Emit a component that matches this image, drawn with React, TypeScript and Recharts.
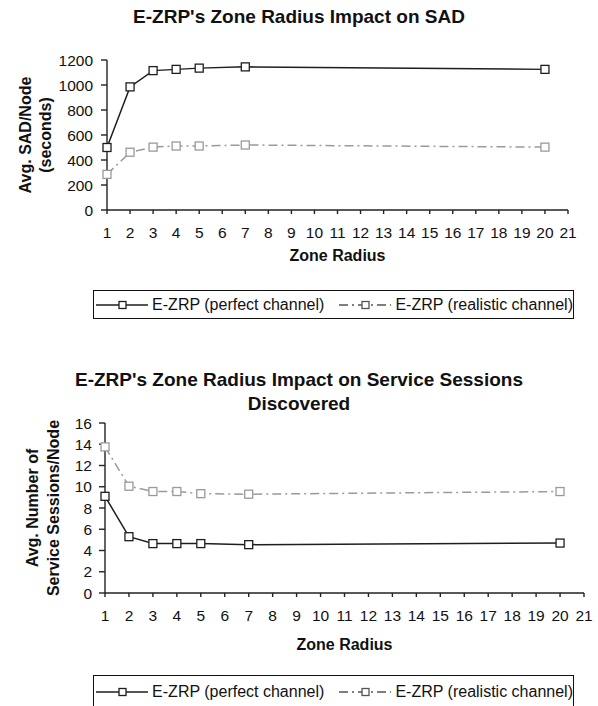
import React from 'react';
import { LineChart, Line, XAxis, YAxis, Legend } from 'recharts';

const radius = [1, 2, 3, 4, 5, 7, 20];
const sadPerfect = [500, 985, 1115, 1125, 1135, 1145, 1125];
const sadRealistic = [285, 462, 503, 512, 512, 520, 503];
const sessPerfect = [9.1, 5.3, 4.65, 4.65, 4.65, 4.55, 4.7];
const sessRealistic = [13.75, 10.05, 9.55, 9.55, 9.35, 9.3, 9.55];

const xTicks = [1, 2, 3, 4, 5, 6, 7, 8, 9, 10, 11, 12, 13, 14, 15, 16, 17, 18, 19, 20, 21];
const sadTicks = [0, 200, 400, 600, 800, 1000, 1200];
const sessTicks = [0, 2, 4, 6, 8, 10, 12, 14, 16];

const seriesNames = ['E-ZRP (perfect channel)', 'E-ZRP (realistic channel)'];
const titleTop = "E-ZRP's Zone Radius Impact on SAD";
const titleBottom1 = "E-ZRP's Zone Radius Impact on Service Sessions";
const titleBottom2 = 'Discovered';
const xTitle = 'Zone Radius';

const FONT = "'Liberation Sans', Arial, sans-serif";
const DARK = '#1e1e1e';
const GRAY = '#9a9a9a';
const DASH = '9 4 2 4';

const sadData = radius.map((r, i) => ({ x: r, perfect: sadPerfect[i], realistic: sadRealistic[i] }));
const sessData = radius.map((r, i) => ({ x: r, perfect: sessPerfect[i], realistic: sessRealistic[i] }));

const SquareDot = (color: string) => (props: any) => {
  const { cx, cy } = props;
  if (cx == null || cy == null) return null;
  return <rect x={cx - 4} y={cy - 4} width={8} height={8} fill="#fff" stroke={color} strokeWidth={1.3} />;
};

const YTitle = (lines: string[], offsets: number[]) => (props: any) => {
  const vb = props.viewBox || {};
  const cy = vb.y + vb.height / 2;
  return (
    <g>
      {lines.map((l, i) => {
        const cx = vb.x + offsets[i];
        return (
          <text key={i} x={cx} y={cy} transform={`rotate(-90, ${cx}, ${cy})`} textAnchor="middle"
            dominantBaseline="central" fontFamily={FONT} fontWeight="bold" fontSize={16} fill="#111">{l}</text>
        );
      })}
    </g>
  );
};

const LegendBox = () => (
  <div style={{
    boxSizing: 'border-box', width: '100%', height: '100%', border: '1.5px solid #111',
    display: 'flex', alignItems: 'center', fontFamily: FONT, fontSize: 16, color: '#111', paddingLeft: 1, whiteSpace: 'nowrap'
  }}>
    <svg width={54} height={12} style={{ marginRight: 4 }}>
      <line x1={1} y1={6} x2={53} y2={6} stroke={DARK} strokeWidth={1.5} />
      <rect x={24} y={2.5} width={7} height={7} fill="#fff" stroke={DARK} strokeWidth={1.3} />
    </svg>
    <span>{seriesNames[0]}</span>
    <svg width={54} height={12} style={{ marginLeft: 14, marginRight: 4 }}>
      <line x1={1} y1={6} x2={53} y2={6} stroke="#555" strokeWidth={1.5} strokeDasharray={DASH} />
      <rect x={24} y={2.5} width={7} height={7} fill="#fff" stroke="#555" strokeWidth={1.3} />
    </svg>
    <span>{seriesNames[1]}</span>
  </div>
);

const tickStyle = { fontFamily: FONT, fontSize: 15.5, fill: '#111' };
const axisLine = { stroke: '#222', strokeWidth: 1.4 };

export default function App() {
  return (
    <div style={{ position: 'absolute', left: 0, top: 0, width: 598, height: 706, background: '#fff', overflow: 'hidden' }}>
      <div style={{ position: 'absolute', left: 0, top: 6, width: 598, textAlign: 'center', fontFamily: FONT, fontWeight: 'bold', fontSize: 19, color: '#111' }}>
        {titleTop}
      </div>
      <div style={{ position: 'absolute', left: 0, top: 0 }}>
        <LineChart width={598} height={330} data={sadData} margin={{ top: 60, right: 30, bottom: 0, left: 0 }}>
          <XAxis dataKey="x" type="number" domain={[1, 21]} ticks={xTicks} interval={0} height={120}
            tick={tickStyle} tickSize={4} tickMargin={13} axisLine={axisLine} tickLine={axisLine}
            label={{ value: xTitle, position: 'insideTop', offset: 40, fontFamily: FONT, fontWeight: 'bold', fontSize: 16, fill: '#111' }} />
          <YAxis type="number" domain={[0, 1200]} ticks={sadTicks} interval={0} width={107}
            tick={tickStyle} tickSize={6} tickMargin={8} axisLine={axisLine} tickLine={axisLine}
            label={{ content: YTitle(['Avg. SAD/Node', '(seconds)'], [25, 45]) }} />
          <Legend layout="horizontal" verticalAlign="middle" align="center" content={LegendBox}
            wrapperStyle={{ left: 93, top: 290, width: 481, height: 29, bottom: 'auto' }} />
          <Line name={seriesNames[0]} dataKey="perfect" stroke={DARK} strokeWidth={1.5} dot={SquareDot(DARK)} isAnimationActive={false} />
          <Line name={seriesNames[1]} dataKey="realistic" stroke={GRAY} strokeWidth={1.5} strokeDasharray={DASH} dot={SquareDot(GRAY)} isAnimationActive={false} />
        </LineChart>
      </div>
      <div style={{ position: 'absolute', left: 0, top: 368, width: 598, textAlign: 'center', fontFamily: FONT, fontWeight: 'bold', fontSize: 19, color: '#111', lineHeight: '24px' }}>
        <div>{titleBottom1}</div>
        <div>{titleBottom2}</div>
      </div>
      <div style={{ position: 'absolute', left: 0, top: 330 }}>
        <LineChart width={598} height={376} data={sessData} margin={{ top: 93, right: 14, bottom: 0, left: 0 }}>
          <XAxis dataKey="x" type="number" domain={[1, 21]} ticks={xTicks} interval={0} height={113}
            tick={tickStyle} tickSize={4} tickMargin={13} axisLine={axisLine} tickLine={axisLine}
            label={{ value: xTitle, position: 'insideTop', offset: 46, fontFamily: FONT, fontWeight: 'bold', fontSize: 16, fill: '#111' }} />
          <YAxis type="number" domain={[0, 16]} ticks={sessTicks} interval={0} width={105}
            tick={tickStyle} tickSize={6} tickMargin={7} axisLine={axisLine} tickLine={axisLine}
            label={{ content: YTitle(['Avg. Number of', 'Service Sessions/Node'], [32, 53]) }} />
          <Legend layout="horizontal" verticalAlign="middle" align="center" content={LegendBox}
            wrapperStyle={{ left: 93, top: 345, width: 481, height: 34, bottom: 'auto' }} />
          <Line name={seriesNames[0]} dataKey="perfect" stroke={DARK} strokeWidth={1.5} dot={SquareDot(DARK)} isAnimationActive={false} />
          <Line name={seriesNames[1]} dataKey="realistic" stroke={GRAY} strokeWidth={1.5} strokeDasharray={DASH} dot={SquareDot(GRAY)} isAnimationActive={false} />
        </LineChart>
      </div>
    </div>
  );
}
